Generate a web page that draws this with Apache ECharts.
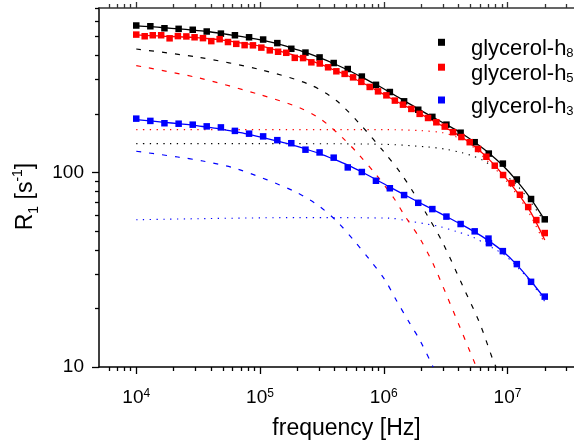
<!DOCTYPE html>
<html><head><meta charset="utf-8">
<script src="https://cdn.jsdelivr.net/npm/echarts@6/dist/echarts.min.js"></script>
<style>html,body{margin:0;padding:0;background:#fff}#c{width:574px;height:445px}</style>
</head><body><div id="c"></div>
<script>
// ---------- data ----------
const freqA = [1.00e4, 1.30e4, 1.69e4, 2.20e4, 2.86e4, 3.71e4, 4.83e4, 6.27e4, 8.16e4, 1.06e5, 1.38e5, 1.79e5, 2.33e5, 3.03e5, 3.94e5, 5.12e5, 6.65e5, 8.65e5, 1.12e6, 1.46e6, 1.90e6, 2.47e6, 3.21e6, 4.18e6, 5.43e6, 7.06e6, 9.17e6, 1.19e7, 1.55e7, 2.00e7];
const r1H8 = [569, 564, 551, 547, 541, 530, 517, 507, 495, 482, 462, 432, 413, 390, 365, 340, 311, 282, 259, 232, 210, 193, 176, 160, 143, 125, 111, 92, 73, 57.4];

const freqB = [1.00e4, 1.17e4, 1.36e4, 1.59e4, 1.86e4, 2.17e4, 2.54e4, 2.96e4, 3.46e4, 4.04e4, 4.72e4, 5.51e4, 6.43e4, 7.51e4, 8.77e4, 1.025e5, 1.20e5, 1.40e5, 1.63e5, 1.91e5, 2.23e5, 2.60e5, 3.04e5, 3.55e5, 4.14e5, 4.83e5, 5.65e5, 6.59e5, 7.70e5, 8.99e5, 1.05e6, 1.23e6, 1.43e6, 1.67e6, 1.95e6, 2.28e6, 2.66e6, 3.11e6, 3.63e6, 4.24e6, 4.95e6, 5.78e6, 6.75e6, 7.89e6, 9.21e6, 1.08e7, 1.26e7, 1.47e7, 1.71e7, 2.00e7];
const r1H5 = [511, 501, 507, 507, 489, 502, 500, 495, 490, 473, 484, 468, 458, 451, 450, 438, 424, 417, 412, 388, 387, 368, 363, 347, 331, 321, 308, 292, 275, 261, 249, 234, 223, 212, 200, 190.5, 181, 172, 161, 152, 143, 132, 120.4, 108.3, 97, 88.2, 76.8, 66.4, 56.9, 48.8];

const freqC = [1.00e4, 1.30e4, 1.69e4, 2.20e4, 2.86e4, 3.71e4, 4.83e4, 6.27e4, 8.16e4, 1.06e5, 1.38e5, 1.79e5, 2.33e5, 3.03e5, 3.94e5, 5.12e5, 6.65e5, 8.65e5, 1.12e6, 1.46e6, 1.90e6, 2.47e6, 3.21e6, 4.18e6, 5.43e6, 7.02e6, 7.08e6, 9.17e6, 1.19e7, 1.55e7, 2.00e7];
const r1H3 = [189, 184, 179, 178, 176, 172.5, 170.4, 163.5, 158.2, 153.2, 146.5, 141.3, 130.9, 126.7, 119.1, 106.1, 100.5, 90.6, 82.9, 76.5, 69.8, 64.8, 59.3, 54.3, 49.8, 45.7, 43.3, 39.4, 33.8, 27.4, 23.0];

// fitted curves (solid), sampled at freqA
const fitH8 = [567, 561, 554, 547, 539, 530, 518, 505, 492, 477, 459, 437, 414, 389, 363, 336, 309, 283, 258, 234, 212, 193, 176, 160, 143, 126, 108.5, 90.5, 73, 57];
const fitH5 = [509, 505, 501, 498, 494, 488, 480, 468, 457, 443, 424, 404, 383, 361, 337, 314, 290, 265, 242, 221, 203, 185, 169, 153, 136, 117, 97.5, 79.5, 62, 45];
const fitH3 = [187, 184, 181, 178, 175, 171, 167, 162, 157, 151, 145, 139, 132, 125, 117, 109, 100.5, 92, 84, 77, 70.5, 64.7, 59.3, 54.3, 49.5, 44.5, 39.3, 33.5, 27.6, 22.5];

// dashed components
const dashFreqH8 = [1e4, 3.16e4, 1e5, 2.52e5, 4.14e5, 6.38e5, 1.02e6, 1.37e6, 1.72e6, 2.21e6, 3.01e6, 4.37e6, 5.96e6, 7.74e6, 8.1e6];
const dashH8 = [431, 391, 338, 283, 234, 178, 126, 99.3, 79.7, 61.3, 43.3, 25.9, 16.8, 10.6, 10];
const dashFreqH5 = [1e4, 3.2e4, 1e5, 2.09e5, 3.13e5, 4.68e5, 6.18e5, 8.71e5, 1.22e6, 1.45e6, 1.95e6, 2.5e6, 3.21e6, 4.11e6, 5.43e6, 5.6e6];
const dashH5 = [354, 306, 251, 215, 187, 150, 125, 97, 73, 61, 46, 34, 23.5, 16.1, 10.5, 10];
const dashFreqH3 = [1e4, 2.17e4, 3.45e4, 6.62e4, 1.91e5, 3.03e5, 4.27e5, 5.82e5, 7.69e5, 1.02e6, 1.26e6, 1.62e6, 1.95e6, 2.47e6, 2.51e6];
const dashH3 = [128.5, 120, 114.5, 104, 79.8, 66.8, 55.3, 44.2, 35.6, 28.1, 22.1, 16.8, 13.8, 10.2, 10];

// dotted components
const dotFreqH8 = [1e4, 1e5, 1e6, 2.27e6, 3.1e6, 4.24e6, 5.23e6, 6.3e6, 9.17e6, 1.19e7, 1.55e7, 2e7];
const dotH8 = [140.6, 140.6, 139.5, 135.1, 131.9, 126.5, 121.5, 115.6, 99, 86, 70, 55.5];
const dotFreqH5 = [1e4, 1e5, 1e6, 2e6, 3e6, 4e6, 5e6, 6e6, 8e6, 1.06e7, 1.45e7, 2e7];
const dotH5 = [166, 166, 166, 164, 160, 151, 139, 125, 104, 85, 64, 43];
const dotFreqH3 = [1e4, 2.09e5, 1.12e6, 1.52e6, 2.08e6, 2.83e6, 3.86e6, 5.26e6, 7.64e6, 9.8e6, 1.51e7, 2e7];
const dotH3 = [57.1, 58.6, 58.2, 56.5, 54.7, 52.7, 49.7, 46.5, 40.8, 37.0, 27.8, 21.7];

// ticks
const xMajor = [1e4, 1e5, 1e6, 1e7];
const xMinor = [6e3, 7e3, 8e3, 9e3, 2e4, 3e4, 4e4, 5e4, 6e4, 7e4, 8e4, 9e4, 2e5, 3e5, 4e5, 5e5, 6e5, 7e5, 8e5, 9e5, 2e6, 3e6, 4e6, 5e6, 6e6, 7e6, 8e6, 9e6, 2e7, 3e7, 4e7];
const yMajor = [10, 100];
const yMinor = [20, 30, 40, 50, 60, 70, 80, 90, 200, 300, 400, 500, 600, 700];
const seriesNames = ['glycerol-h8', 'glycerol-h5', 'glycerol-h3'];
const colors = ['#000000', '#ff0000', '#0000ff'];

// ---------- chart ----------
const FONT = '"Liberation Sans", Arial, sans-serif';
const pairs = (xs, ys) => xs.map((x, i) => [x, ys[i]]);
const X_MIN = 5e3, X_MAX = 5e7, Y_MIN = 10, Y_MAX = 700;

function xAx(pos, vals, len, main) {
  return {
    type: 'log', logBase: 10, min: X_MIN, max: X_MAX, position: pos, gridIndex: 0,
    axisLine: { show: !!main, onZero: false, lineStyle: { color: pos === 'top' ? '#333' : '#000', width: 1.5 } },
    axisTick: { show: true, inside: false, length: len, customValues: vals, lineStyle: { color: pos === 'top' ? '#333' : '#000', width: 1.3 } },
    axisLabel: { show: false }, splitLine: { show: false }, minorTick: { show: false }, minorSplitLine: { show: false }
  };
}
function yAx(vals, len, main) {
  return {
    type: 'log', logBase: 10, min: Y_MIN, max: Y_MAX, position: 'left', gridIndex: 0,
    axisLine: { show: !!main, onZero: false, lineStyle: { color: '#000', width: 1.5 } },
    axisTick: { show: true, inside: false, length: len, customValues: vals, lineStyle: { color: '#000', width: 1.3 } },
    axisLabel: { show: false }, splitLine: { show: false }, minorTick: { show: false }, minorSplitLine: { show: false }
  };
}

const xMain = xAx('bottom', xMajor, 7, true);
xMain.axisLabel = {
  show: true, customValues: xMajor, margin: 21,
  formatter: v => '{b|10}{s|' + Math.round(Math.log10(v)) + '}',
  rich: {
    b: { fontSize: 19, lineHeight: 20, fontFamily: FONT, color: '#000' },
    s: { fontSize: 12, lineHeight: 10, verticalAlign: 'top', fontFamily: FONT, color: '#000' }
  }
};
xMain.name = 'frequency [Hz]';
xMain.nameLocation = 'middle';
xMain.nameGap = 50;
xMain.nameMoveOverlap = false;
xMain.nameTextStyle = { fontSize: 23, fontFamily: FONT, color: '#000' };

const yMain = yAx(yMajor, 7, true);
yMain.axisLabel = { show: true, customValues: yMajor, margin: 15, fontSize: 19, fontFamily: FONT, color: '#000', formatter: v => String(Math.round(v)) };
yMain.name = '{m|R}{sb|1}{m| [s}{sp|-1}{m|]}';
yMain.nameLocation = 'middle';
yMain.nameGap = 58;
yMain.nameMoveOverlap = false;
yMain.nameTextStyle = {
  fontFamily: FONT, color: '#000', padding: [0, 18, 0, 0],
  rich: {
    m: { fontSize: 23, lineHeight: 30, fontFamily: FONT, color: '#000' },
    sb: { fontSize: 14, lineHeight: 14, verticalAlign: 'bottom', fontFamily: FONT, color: '#000' },
    sp: { fontSize: 14, lineHeight: 14, verticalAlign: 'top', fontFamily: FONT, color: '#000' }
  }
};

const legendTops = [37.3, 62.2, 95];
const legends = seriesNames.map((n, i) => ({
  data: [n], left: 438, top: legendTops[i], orient: 'vertical', padding: 0,
  icon: 'rect', itemWidth: 7, itemHeight: 7, selectedMode: false,
  formatter: name => '{g| }{t|glycerol-h}{s|' + name.slice(-1) + '}',
  textStyle: {
    fontFamily: FONT, color: '#000',
    rich: {
      g: { width: 21, lineHeight: 36, fontSize: 10 },
      t: { fontSize: 22, lineHeight: 26, verticalAlign: 'bottom', fontFamily: FONT, color: '#000' },
      s: { fontSize: 13, lineHeight: 10, verticalAlign: 'bottom', fontFamily: FONT, color: '#000' }
    }
  }
}));

function lineS(name, data, color, type, width, smooth) {
  return {
    name, type: 'line', data, xAxisIndex: 0, yAxisIndex: 0, showSymbol: false, symbol: 'none',
    smooth: smooth, clip: true, silent: true,
    lineStyle: { color, width, type }, itemStyle: { color }, z: 2
  };
}
function scatterS(name, data, color) {
  return {
    name, type: 'scatter', data, xAxisIndex: 0, yAxisIndex: 0, symbol: 'rect', symbolSize: 6.5,
    itemStyle: { color, opacity: 1 }, z: 4, silent: true
  };
}
const DASH = [5, 8], DOT = [1.3, 5.5];

const option = {
  animation: false,
  backgroundColor: '#fff',
  grid: { left: 99, top: 8, width: 495, height: 359, containLabel: false, outerBoundsMode: 'none' },
  xAxis: [xMain, xAx('bottom', xMinor, 4, false), xAx('top', xMajor, 6, true), xAx('top', xMinor, 4, false)],
  yAxis: [yMain, yAx(yMinor, 4, false)],
  legend: legends,
  series: [
    lineS('dotH8', pairs(dotFreqH8, dotH8), colors[0], DOT, 1.1, 0.3),
    lineS('dotH5', pairs(dotFreqH5, dotH5), colors[1], DOT, 1.1, 0.3),
    lineS('dotH3', pairs(dotFreqH3, dotH3), colors[2], DOT, 1.1, 0.3),
    lineS('dashH8', pairs(dashFreqH8, dashH8), colors[0], DASH, 1.2, 0.3),
    lineS('dashH5', pairs(dashFreqH5, dashH5), colors[1], DASH, 1.2, 0.3),
    lineS('dashH3', pairs(dashFreqH3, dashH3), colors[2], DASH, 1.2, 0.3),
    lineS('fitH8', pairs(freqA, fitH8), colors[0], 'solid', 1.3, 0.3),
    lineS('fitH5', pairs(freqA, fitH5), colors[1], 'solid', 1.3, 0.3),
    lineS('fitH3', pairs(freqA, fitH3), colors[2], 'solid', 1.3, 0.3),
    scatterS(seriesNames[0], pairs(freqA, r1H8), colors[0]),
    scatterS(seriesNames[1], pairs(freqB, r1H5), colors[1]),
    scatterS(seriesNames[2], pairs(freqC, r1H3), colors[2])
  ]
};
const chart = echarts.init(document.getElementById('c'), null, { renderer: 'canvas' });
chart.setOption(option);
</script>
</body></html>
